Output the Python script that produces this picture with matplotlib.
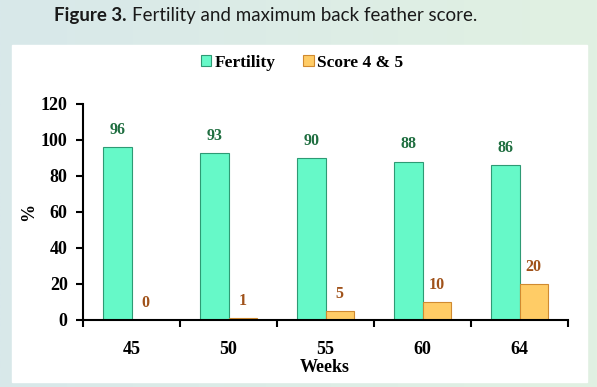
"""Fertility and maximum back feather score, grouped bars by week."""
import numpy as np
import matplotlib
matplotlib.use("Agg")
import matplotlib.pyplot as plt
from matplotlib.patches import Rectangle

weeks = ["45", "50", "55", "60", "64"]
fertility = [96, 93, 90, 88, 86]
score45 = [0, 1, 5, 10, 20]
series_names = ["Fertility", "Score 4 & 5"]

W, H = 597, 387
fig = plt.figure(figsize=(W / 100, H / 100), dpi=100)

# pale gradient backdrop with white panel
bg = fig.add_axes([0, 0, 1, 1], zorder=-10)
grad = np.linspace(0, 1, 256)[None, :]
cmap = matplotlib.colors.LinearSegmentedColormap.from_list("bg", ["#d8e8ea", "#e1f1e2"])
bg.imshow(grad, aspect="auto", cmap=cmap, extent=[0, 1, 0, 1])
bg.set_xlim(0, 1); bg.set_ylim(0, 1); bg.axis("off")
bg.add_patch(Rectangle((12 / W, 1 - 382 / H), 575 / W, 337 / H, color="white", zorder=2))

# title: bold "Figure 3." then regular text
t1 = fig.text(54 / W, 1 - 15 / H, "Figure 3.", fontsize=13.5, fontweight="bold",
              family="Lato", color="#1a1a1a", va="center")
fig.canvas.draw()
x_end = t1.get_window_extent().x1
fig.text((x_end + 5) / W, 1 - 15 / H, "Fertility and maximum back feather score.", fontsize=13.5,
         family="Lato", color="#1a1a1a", va="center")

ax = fig.add_axes([83 / W, 1 - 320 / H, 485 / W, 216 / H])
ax.set_facecolor("none")
x = np.arange(len(weeks))
bw = 0.29
ax.bar(x - bw / 2, fertility, bw, color="#66f9c8", edgecolor="#2e9a74", linewidth=0.8,
       label=series_names[0])
ax.bar(x + bw / 2, score45, bw, color="#ffcc66", edgecolor="#d08a30", linewidth=0.8,
       label=series_names[1])

serif = "Liberation Serif"
for xi, v in zip(x, fertility):
    ax.text(xi - bw / 2, v + 9.5, f"{v}", ha="center", va="center", fontsize=11.5,
            fontweight="bold", family=serif, color="#1f6e40")
for xi, v in zip(x, score45):
    ax.text(xi + bw / 2, v + 9.5, f"{v}", ha="center", va="center", fontsize=11.5,
            fontweight="bold", family=serif, color="#a0521a")

ax.set_xlim(-0.5, len(weeks) - 0.5)
ax.set_ylim(0, 120)
ax.set_yticks(range(0, 121, 20))
ax.set_xticks(x)
ax.set_xticklabels(weeks)
ax.set_xticks(np.arange(-0.5, len(weeks)), minor=True)
ax.tick_params(axis="x", which="major", length=0, pad=15)
ax.tick_params(axis="x", which="minor", length=5, width=1.5, direction="out")
ax.tick_params(axis="y", length=5, width=1.5, direction="out", pad=6)
for lab in ax.get_xticklabels() + ax.get_yticklabels():
    lab.set_family(serif); lab.set_fontweight("bold"); lab.set_fontsize(13)
for s in ["top", "right"]:
    ax.spines[s].set_visible(False)
for s in ["left", "bottom"]:
    ax.spines[s].set_linewidth(1.5)

fig.text((83 + 242) / W, 1 - 368 / H, "Weeks", family=serif, fontweight="bold",
         fontsize=13, ha="center", va="center")
fig.text(29 / W, 1 - 212 / H, "%", family=serif, fontweight="bold", fontsize=13,
         rotation=90, ha="center", va="center")

fig.legend(loc="center", bbox_to_anchor=(302 / W, 1 - 63 / H), ncol=2, frameon=False,
           prop={"family": serif, "weight": "bold", "size": 12.5},
           handlelength=0.6, handleheight=0.6, handletextpad=0.2, columnspacing=1.6)

fig.savefig("out.png", dpi=100)
